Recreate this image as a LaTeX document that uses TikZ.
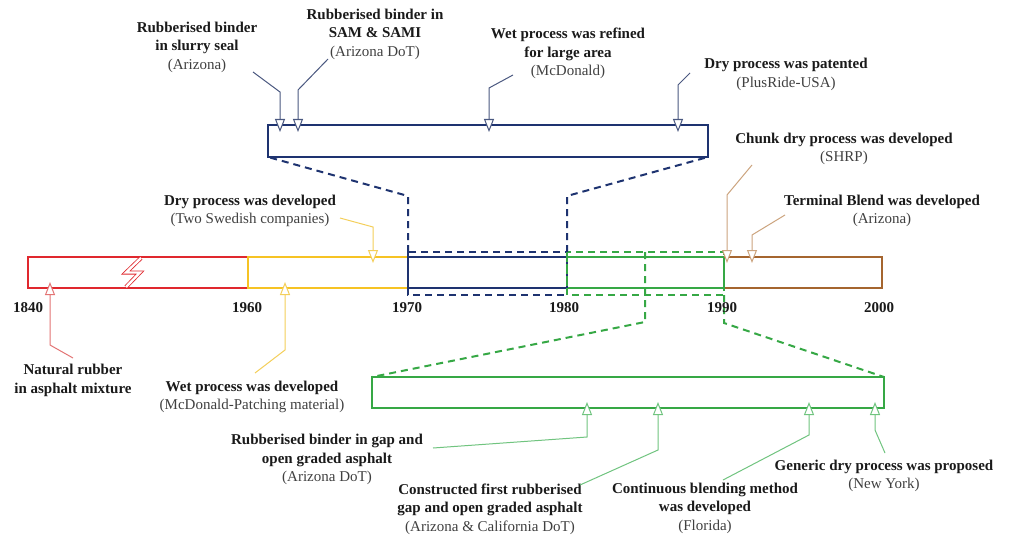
\documentclass[tikz,border=0pt]{standalone}
\usepackage{fontspec}
\setmainfont{Liberation Serif}
\usetikzlibrary{arrows.meta}
\definecolor{cRed}{HTML}{E0282E}
\definecolor{cRedL}{HTML}{E37474}
\definecolor{cYel}{HTML}{F6C324}
\definecolor{cYelL}{HTML}{F4CF5A}
\definecolor{cNavy}{HTML}{1E3370}
\definecolor{cNavyL}{HTML}{4A5880}
\definecolor{cGrn}{HTML}{36A845}
\definecolor{cGrnL}{HTML}{70C47F}
\definecolor{cBrn}{HTML}{A5652F}
\definecolor{cBrnL}{HTML}{CCA47E}
\definecolor{cTxt}{HTML}{1A1A1A}
\definecolor{cSub}{HTML}{404040}
\newcommand{\evhead}[1]{\textbf{#1}}
\newcommand{\evsrc}[1]{{\color{cSub}#1}}
\begin{document}
\begin{tikzpicture}[x=1pt,y=-1pt,
  bar/.style={line width=2pt},
  zoomline/.style={line width=2pt, dashed, dash pattern=on 7pt off 5pt},
  lead/.style={line width=1pt, -{Triangle[length=13pt,width=10pt,fill=white]}},
  lbl/.style={align=center, font=\fontsize{15}{18.5}\selectfont, text=cTxt, inner sep=0pt},
  yr/.style={font=\fontsize{15}{18}\selectfont\bfseries, text=cTxt, inner sep=0pt}]
\useasboundingbox (0,0) rectangle (1013,535);
\fill[white] (0,0) rectangle (1013,535);

% ---- main timeline bar ----
\draw[bar, cRed] (28,257) rectangle (248,288);
\draw[bar, cYel] (248,257) rectangle (408,288);
\draw[bar, cNavy] (408,257) rectangle (567,288);
\draw[bar, cGrn] (567,257) rectangle (724,288);
\draw[bar, cBrn] (724,257) -- (882,257) -- (882,288) -- (724,288);
% break symbol in the early period
\draw[cRed, line width=0.8pt, double=white, double distance=2.4pt, line join=miter]
  (141,258) -- (126,272.5) -- (140,272.5) -- (126,287);

% ---- zoomed windows on the bar ----
\draw[zoomline, cNavy] (408,252) rectangle (567,295);
\draw[zoomline, cGrn] (567,252) rectangle (724,295);

% ---- upper detail box (1970s) ----
\draw[bar, cNavy] (268,125) rectangle (708,157);
\coordinate (ul) at (268,157);
\coordinate (ur) at (708,157);
\draw[zoomline, cNavy] (408,252) -- (408,196) -- (ul);
\draw[zoomline, cNavy] (567,252) -- (567,196) -- (ur);

% ---- lower detail box (1980s) ----
\draw[bar, cGrn] (372,377) rectangle (884,408);
\coordinate (ll) at (372,377);
\coordinate (lr) at (884,377);
\draw[zoomline, cGrn] (645,252) -- (645,322) -- (ll);
\draw[zoomline, cGrn] (724,295) -- (724,323) -- (lr);

% ---- year labels ----
\node[yr] (y1840) at (28,308) {1840};
\node[yr] (y1960) at (247,308) {1960};
\node[yr] (y1970) at (407,308) {1970};
\node[yr] (y1980) at (564,308) {1980};
\node[yr] (y1990) at (722,308) {1990};
\node[yr] (y2000) at (879,308) {2000};

% ---- event labels ----
\node[lbl] (slurry) at (197,47) {\evhead{Rubberised binder}\\\evhead{in slurry seal}\\\evsrc{(Arizona)}};
\node[lbl] (sam) at (375,34) {\evhead{Rubberised binder in}\\\evhead{SAM \& SAMI}\\\evsrc{(Arizona DoT)}};
\node[lbl] (refined) at (568,53.5) {\evhead{Wet process was refined}\\\evhead{for large area}\\\evsrc{(McDonald)}};
\node[lbl] (patent) at (786,74.5) {\evhead{Dry process was patented}\\\evsrc{(PlusRide-USA)}};
\node[lbl] (chunk) at (844,149) {\evhead{Chunk dry process was developed}\\\evsrc{(SHRP)}};
\node[lbl] (terminal) at (882,211) {\evhead{Terminal Blend was developed}\\\evsrc{(Arizona)}};
\node[lbl] (drydev) at (250,211) {\evhead{Dry process was developed}\\\evsrc{(Two Swedish companies)}};
\node[lbl] (natural) at (73,380.5) {\evhead{Natural rubber}\\\evhead{in asphalt mixture}};
\node[lbl] (wetdev) at (252,397) {\evhead{Wet process was developed}\\\evsrc{(McDonald-Patching material)}};
\node[lbl] (gap) at (327,459.5) {\evhead{Rubberised binder in gap and}\\\evhead{open graded asphalt}\\\evsrc{(Arizona DoT)}};
\node[lbl] (constr) at (490,509) {\evhead{Constructed first rubberised}\\\evhead{gap and  open graded asphalt}\\\evsrc{(Arizona \& California DoT)}};
\node[lbl] (contin) at (705,508) {\evhead{Continuous blending method}\\\evhead{was developed}\\\evsrc{(Florida)}};
\node[lbl] (generic) at (884,476) {\evhead{Generic dry process was proposed}\\\evsrc{(New York)}};

% ---- leader lines: start, bend and tip points ----
\coordinate (s1) at (253,72);  \coordinate (b1) at (280,92);  \coordinate (t1) at (280,132);
\coordinate (s2) at (328,59);  \coordinate (b2) at (298,90);  \coordinate (t2) at (298,132);
\coordinate (s3) at (513,75);  \coordinate (b3) at (489,88);  \coordinate (t3) at (489,132);
\coordinate (s4) at (690,73);  \coordinate (b4) at (678,85);  \coordinate (t4) at (678,132);
\coordinate (s5) at (752,165); \coordinate (b5) at (727,195); \coordinate (t5) at (727,263);
\coordinate (s6) at (785,215); \coordinate (b6) at (752,235); \coordinate (t6) at (752,263);
\coordinate (s7) at (340,218); \coordinate (b7) at (373,227); \coordinate (t7) at (373,263);
\coordinate (s8) at (73,358);  \coordinate (b8) at (50,345);  \coordinate (t8) at (50,282);
\coordinate (s9) at (255,373); \coordinate (b9) at (285,350); \coordinate (t9) at (285,282);
\coordinate (s10) at (433,448); \coordinate (b10) at (587,437); \coordinate (t10) at (587,402);
\coordinate (s11) at (580,485); \coordinate (b11) at (658,450); \coordinate (t11) at (658,402);
\coordinate (s12) at (723,480); \coordinate (b12) at (809,435); \coordinate (t12) at (809,402);
\coordinate (s13) at (885,453); \coordinate (b13) at (875,430); \coordinate (t13) at (875,402);

\draw[lead, cNavyL] (s1) -- (b1) -- (t1);
\draw[lead, cNavyL] (s2) -- (b2) -- (t2);
\draw[lead, cNavyL] (s3) -- (b3) -- (t3);
\draw[lead, cNavyL] (s4) -- (b4) -- (t4);
\draw[lead, cBrnL] (s5) -- (b5) -- (t5);
\draw[lead, cBrnL] (s6) -- (b6) -- (t6);
\draw[lead, cYelL] (s7) -- (b7) -- (t7);
\draw[lead, cRedL] (s8) -- (b8) -- (t8);
\draw[lead, cYelL] (s9) -- (b9) -- (t9);
\draw[lead, cGrnL] (s10) -- (b10) -- (t10);
\draw[lead, cGrnL] (s11) -- (b11) -- (t11);
\draw[lead, cGrnL] (s12) -- (b12) -- (t12);
\draw[lead, cGrnL] (s13) -- (b13) -- (t13);
\end{tikzpicture}
\end{document}
